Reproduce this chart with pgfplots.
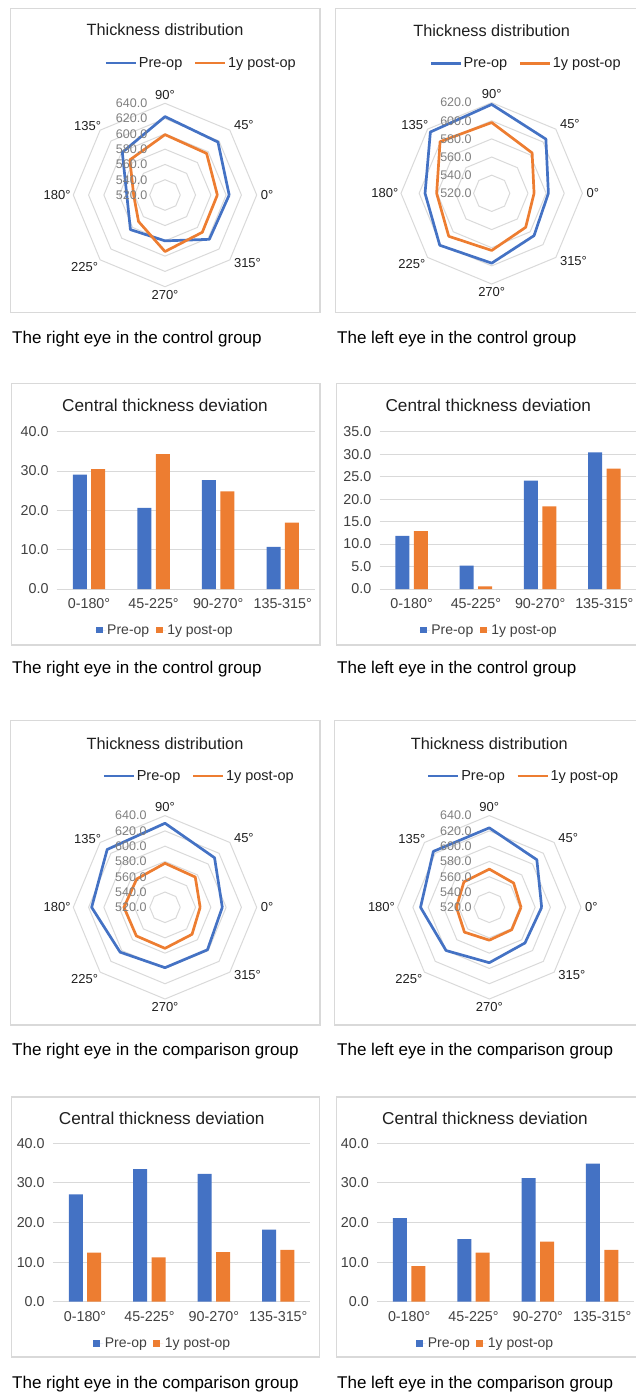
\documentclass[border=0pt]{standalone}
\usepackage{pgfplots}
\pgfplotsset{compat=1.18}
\usepackage{pgfplotstable}
\usepackage{fontspec}
\setmainfont{Liberation Sans}
\definecolor{cblue}{HTML}{4472C4}
\definecolor{corange}{HTML}{ED7D31}
\definecolor{cgrid}{HTML}{D9D9D9}
\definecolor{cframe}{HTML}{D9D9D9}
\definecolor{cring}{HTML}{7F7F7F}
\definecolor{ctext}{HTML}{404040}
\definecolor{ctitle}{HTML}{1F1F1F}

\pgfplotstableread{
ang one
0 1
45 1
90 1
135 1
180 1
225 1
270 1
315 1
360 1
}\angtab

% radar data: angle, Pre-op, 1y post-op
\pgfplotstableread{
ang pre post
0 604 588.5
45 618 597
90 622.6 599
135 599 585
180 570 561
225 584 569
270 580 594
315 602 589
360 604 588.5
}\radA
\pgfplotstableread{
ang pre post
0 582.5 566.7
45 604.5 583
90 618 598
135 615.6 600.5
180 593.5 580.7
225 601 587
270 597 583
315 586 573
360 582.5 566.7
}\radB
\pgfplotstableread{
ang pre post
0 595 566
45 611.7 576
90 630 577.6
135 627 572.4
180 616 573.7
225 603 573
270 599 573.7
315 598.6 570
360 595 566
}\radC
\pgfplotstableread{
ang pre post
0 588.5 561.5
45 608 565
90 624 570
135 623.5 567
180 610 563
225 600 566
270 592.5 563
315 586 561.5
360 588.5 561.5
}\radD

% bar data
\pgfplotstableread{
i pre post
0 29.1 30.5
1 20.6 34.3
2 27.7 24.8
3 10.7 16.9
}\barA
\pgfplotstableread{
i pre post
0 11.8 12.9
1 5.2 0.6
2 24.1 18.4
3 30.4 26.8
}\barB
\pgfplotstableread{
i pre post
0 27.1 12.4
1 33.5 11.2
2 32.3 12.5
3 18.2 13.1
}\barC
\pgfplotstableread{
i pre post
0 21.1 9.0
1 15.8 12.4
2 31.2 15.2
3 34.9 13.1
}\barD

\pgfplotsset{
  radar/.style={hide axis, scale only axis, clip=false, anchor=center,
    legend columns=2,
    legend style={draw=none, fill=none, anchor=center, inner sep=0pt,
      font=\fontsize{14.5}{17}\selectfont, text=ctitle,
      nodes={inner sep=1.5pt},
      /tikz/every even column/.append style={column sep=10pt}},
    legend image code/.code={\draw[##1] (0pt,0pt) -- (30pt,0pt);}},
  pre/.style={cblue, line width=2.7pt, line join=round},
  post/.style={corange, line width=2.7pt, line join=round},
  bars/.style={scale only axis, anchor=south west, ybar=4.4pt, bar width=14pt,
    xmin=-0.5, xmax=3.5, ymin=0,
    xtick={0,1,2,3}, xticklabels={0-180°,45-225°,90-270°,135-315°},
    axis line style={draw=none}, tick style={draw=none},
    ymajorgrids, grid style={cgrid, line width=1pt},
    ticklabel style={font=\fontsize{14.3}{17}\selectfont, inner sep=0pt, text=ctext},
    yticklabel style={anchor=east, xshift=-8pt},
    xticklabel style={anchor=north, yshift=-5pt},
    legend columns=2,
    legend style={draw=none, fill=none, anchor=center, inner sep=0pt,
      font=\fontsize{14}{17}\selectfont, text=ctext,
      nodes={inner sep=1.5pt},
      /tikz/every even column/.append style={column sep=5pt}},
    legend image code/.code={\fill[##1] (0pt,-3.4pt) rectangle (6.8pt,3.4pt); \path (0pt,0pt) -- (10pt,0pt);},
    /pgf/number format/.cd, fixed, fixed zerofill, precision=1, assume math mode=true},
}

\newcommand\gridoct[1]{%
  \pgfplotsinvokeforeach{#1}{%
    \addplot[cgrid, line width=1pt, forget plot] table[x expr={##1*cos(\thisrow{ang})}, y expr={##1*sin(\thisrow{ang})}]{\angtab};}}
\newcommand\series[1]{%
  \addplot[pre] table[x expr={(\thisrow{pre}-520)*cos(\thisrow{ang})}, y expr={(\thisrow{pre}-520)*sin(\thisrow{ang})}]{#1};
  \addplot[post] table[x expr={(\thisrow{post}-520)*cos(\thisrow{ang})}, y expr={(\thisrow{post}-520)*sin(\thisrow{ang})}]{#1};
  \legend{Pre-op,1y post-op}}
\tikzset{alab/.style={text=ctitle, font=\fontsize{13}{15}\selectfont},
  rlab/.style={anchor=east, inner sep=0pt, text=cring, font=\fontsize{12.5}{14}\selectfont}}
% #1 = R, #2 = R*0.7071, #3 = -#2
\newcommand\anglabels[3]{%
  \node[alab, anchor=west, inner sep=0pt, xshift=4pt] at (axis cs:#1,0) {0°};
  \node[alab, anchor=south west, inner sep=0pt, xshift=4pt] at (axis cs:#2,#2) {45°};
  \node[alab, anchor=south, inner sep=0pt, yshift=3.3pt] at (axis cs:0,#1) {90°};
  \node[alab, anchor=south east, inner sep=0pt, xshift=1pt, yshift=-1pt] at (axis cs:#3,#2) {135°};
  \node[alab, anchor=east, inner sep=0pt, xshift=-2.5pt] at (axis cs:-#1,0) {180°};
  \node[alab, anchor=north east, inner sep=0pt, xshift=-2pt, yshift=-2pt] at (axis cs:#3,#3) {225°};
  \node[alab, anchor=north, inner sep=0pt, yshift=-3.3pt] at (axis cs:0,-#1) {270°};
  \node[alab, anchor=north west, inner sep=0pt, xshift=4pt, yshift=1.5pt] at (axis cs:#2,#3) {315°};}
\newcommand\rl[3]{\node[rlab] at (axis cs:#1,#2) {#3};}

\begin{document}
\begin{tikzpicture}
\path[use as bounding box] (0pt,0pt) rectangle (636pt,-1393pt);

% ---------- frames, titles, captions ----------
\begin{scope}[x=1pt,y=-1pt]
\draw[cframe, line width=1.3pt] (10.5,8.5) rectangle (320,312.5);
\draw[cframe, line width=1.3pt] (640,8.5) -- (335.5,8.5) -- (335.5,312.5) -- (640,312.5);
\draw[cframe, line width=1.3pt] (11.5,383.5) rectangle (320,645);
\draw[cframe, line width=1.3pt] (640,383.5) -- (336.5,383.5) -- (336.5,645) -- (640,645);
\draw[cframe, line width=1.3pt] (10.5,720.5) rectangle (320,1025);
\draw[cframe, line width=1.3pt] (640,720.5) -- (334.5,720.5) -- (334.5,1025) -- (640,1025);
\draw[cframe, line width=1.3pt] (11.5,1097) rectangle (319.5,1357);
\draw[cframe, line width=1.3pt] (640,1097) -- (336.5,1097) -- (336.5,1357) -- (640,1357);

\begin{scope}[every node/.style={inner sep=0pt, text=ctitle, font=\fontsize{16.3}{19}\selectfont}]
\node at (165,30) {Thickness distribution};
\node at (491.7,30.7) {Thickness distribution};
\node at (165,743.3) {Thickness distribution};
\node at (489.3,743.3) {Thickness distribution};
\end{scope}
\begin{scope}[every node/.style={inner sep=0pt, text=ctitle, font=\fontsize{17.2}{20}\selectfont}]
\node at (165,405) {Central thickness deviation};
\node at (488.3,405) {Central thickness deviation};
\node at (161.7,1118.3) {Central thickness deviation};
\node at (485,1118.3) {Central thickness deviation};
\end{scope}
\begin{scope}[every node/.style={inner sep=0pt, anchor=west, font=\fontsize{17}{20}\selectfont}]
\node at (12,339) {The right eye in the control group};
\node at (337,339) {The left eye in the control group};
\node at (12,669) {The right eye in the control group};
\node at (337,669) {The left eye in the control group};
\node at (12,1051) {The right eye in the comparison group};
\node at (337,1051) {The left eye in the comparison group};
\node at (12,1384) {The right eye in the comparison group};
\node at (337,1384) {The left eye in the comparison group};
\end{scope}
\end{scope}

% ---------- radar 1 ----------
\begin{axis}[radar, at={(165pt,-195pt)}, width=183.4pt, height=183.4pt,
  xmin=-120, xmax=120, ymin=-120, ymax=120,
  legend style={at={(0.696,1.22)}}]
\gridoct{20,40,60,80,100,120}
\series{\radA}
\anglabels{120}{84.85}{-84.85}
\rl{-23}{0}{520.0}\rl{-23}{20}{540.0}\rl{-23}{40}{560.0}\rl{-23}{60}{580.0}
\rl{-23}{80}{600.0}\rl{-23}{100}{620.0}\rl{-23}{120}{640.0}
\end{axis}

% ---------- radar 2 ----------
\begin{axis}[radar, at={(491.7pt,-193.3pt)}, width=181.4pt, height=181.4pt,
  xmin=-100, xmax=100, ymin=-100, ymax=100,
  legend style={at={(0.688,1.217)}}]
\gridoct{20,40,60,80,100}
\series{\radB}
\anglabels{100}{70.71}{-70.71}
\rl{-22}{0}{520.0}\rl{-22}{20}{540.0}\rl{-22}{40}{560.0}\rl{-22}{60}{580.0}
\rl{-22}{80}{600.0}\rl{-22}{100}{620.0}
\end{axis}

% ---------- bar 1 ----------
\begin{axis}[bars, at={(56.7pt,-589pt)}, width=258.3pt, height=157.3pt,
  ymax=40, ytick={0,10,...,40},
  legend style={at={(0.419,-0.261)}}]
\addplot[fill=cblue, draw=none] table[x=i, y=pre]{\barA};
\addplot[fill=corange, draw=none] table[x=i, y=post]{\barA};
\legend{Pre-op,1y post-op}
\end{axis}

% ---------- bar 2 ----------
\begin{axis}[bars, at={(379.5pt,-589pt)}, width=257pt, height=157.3pt,
  ymax=35, ytick={0,5,...,35},
  legend style={at={(0.426,-0.261)}}]
\addplot[fill=cblue, draw=none] table[x=i, y=pre]{\barB};
\addplot[fill=corange, draw=none] table[x=i, y=post]{\barB};
\legend{Pre-op,1y post-op}
\end{axis}

% ---------- radar 3 ----------
\begin{axis}[radar, at={(165pt,-907.3pt)}, width=183.4pt, height=183.4pt,
  xmin=-120, xmax=120, ymin=-120, ymax=120,
  legend style={at={(0.685,1.216)}}]
\gridoct{20,40,60,80,100,120}
\series{\radC}
\anglabels{120}{84.85}{-84.85}
\rl{-24}{0}{520.0}\rl{-24}{20}{540.0}\rl{-24}{40}{560.0}\rl{-24}{60}{580.0}
\rl{-24}{80}{600.0}\rl{-24}{100}{620.0}\rl{-24}{120}{640.0}
\end{axis}

% ---------- radar 4 ----------
\begin{axis}[radar, at={(489.3pt,-907.3pt)}, width=183.4pt, height=183.4pt,
  xmin=-120, xmax=120, ymin=-120, ymax=120,
  legend style={at={(0.686,1.216)}}]
\gridoct{20,40,60,80,100,120}
\series{\radD}
\anglabels{120}{84.85}{-84.85}
\rl{-23}{0}{520.0}\rl{-23}{20}{540.0}\rl{-23}{40}{560.0}\rl{-23}{60}{580.0}
\rl{-23}{80}{600.0}\rl{-23}{100}{620.0}\rl{-23}{120}{640.0}
\end{axis}

% ---------- bar 3 ----------
\begin{axis}[bars, at={(52.8pt,-1301.7pt)}, width=257.7pt, height=158.4pt,
  ymax=40, ytick={0,10,...,40},
  legend style={at={(0.426,-0.263)}}]
\addplot[fill=cblue, draw=none] table[x=i, y=pre]{\barC};
\addplot[fill=corange, draw=none] table[x=i, y=post]{\barC};
\legend{Pre-op,1y post-op}
\end{axis}

% ---------- bar 4 ----------
\begin{axis}[bars, at={(377pt,-1301.7pt)}, width=257.3pt, height=158.4pt,
  ymax=40, ytick={0,10,...,40},
  legend style={at={(0.422,-0.263)}}]
\addplot[fill=cblue, draw=none] table[x=i, y=pre]{\barD};
\addplot[fill=corange, draw=none] table[x=i, y=post]{\barD};
\legend{Pre-op,1y post-op}
\end{axis}
\end{tikzpicture}
\end{document}
